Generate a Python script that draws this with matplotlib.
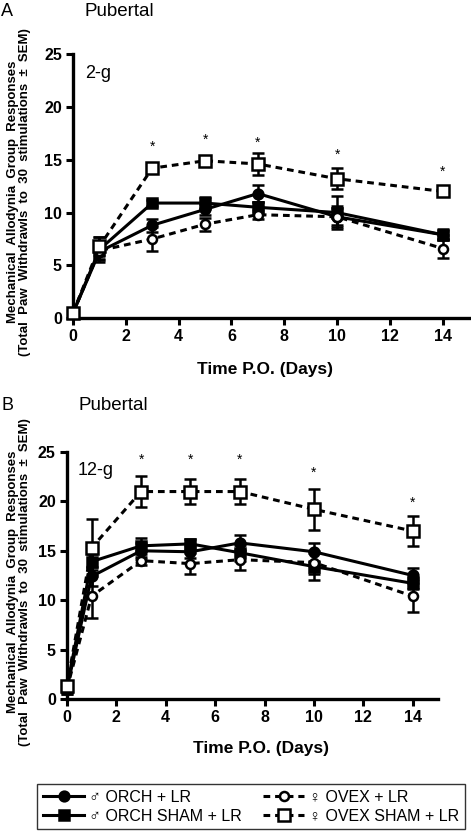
#!/usr/bin/env python3
"""Pubertal mechanical allodynia (2-g and 12-g), recreated with matplotlib."""

import matplotlib
matplotlib.use("Agg")
import matplotlib.pyplot as plt
from matplotlib.lines import Line2D

plt.rcParams["font.family"] = ["Liberation Sans", "Noto Sans CJK JP",
                               "DejaVu Sans"]

days = [0, 1, 3, 5, 7, 10, 14]
star_days = [3, 5, 7, 10, 14]

# Panel A: 2-g filament
orch_a = [0.5, 6.3, 8.8, 10.3, 11.8, 9.6, 7.9]
orch_a_sem = [0.3, 0.8, 0.6, 0.5, 0.8, 1.0, 0.4]
orch_sham_a = [0.5, 6.5, 10.9, 10.9, 10.5, 10.0, 7.9]
orch_sham_a_sem = [0.3, 1.2, 0.3, 0.6, 0.5, 1.6, 0.5]
ovex_a = [0.5, 6.4, 7.5, 8.9, 9.8, 9.6, 6.6]
ovex_a_sem = [0.3, 0.8, 1.1, 0.6, 0.4, 0.8, 0.9]
ovex_sham_a = [0.5, 6.8, 14.2, 14.9, 14.6, 13.2, 12.0]
ovex_sham_a_sem = [0.3, 0.9, 0.3, 0.4, 1.0, 1.0, 0.3]
stars_a = [16.2, 16.9, 16.6, 15.5, 13.9]

# Panel B: 12-g filament
orch_b = [1.0, 12.4, 15.0, 14.9, 15.8, 14.9, 12.5]
orch_b_sem = [0.5, 1.0, 0.8, 0.6, 0.8, 0.9, 0.8]
orch_sham_b = [1.2, 13.9, 15.5, 15.7, 14.8, 13.4, 11.7]
orch_sham_b_sem = [0.5, 0.8, 0.8, 0.5, 0.8, 1.4, 0.6]
ovex_b = [1.0, 10.4, 14.0, 13.7, 14.1, 13.8, 10.4]
ovex_b_sem = [0.5, 2.2, 0.4, 1.1, 1.0, 1.2, 1.6]
ovex_sham_b = [1.3, 15.3, 21.0, 21.0, 21.0, 19.2, 17.0]
ovex_sham_b_sem = [0.5, 2.9, 1.6, 1.3, 1.3, 2.1, 1.5]
stars_b = [24.2, 24.2, 24.2, 22.9, 19.9]

labels = ["\u2642 ORCH + LR", "\u2642 ORCH SHAM + LR",
          "\u2640 OVEX + LR", "\u2640 OVEX SHAM + LR"]

DASH = (0, (2.2, 1.6))
styles = [
    dict(ls="-", marker="o", mfc="black", ms=7),
    dict(ls="-", marker="s", mfc="black", ms=7),
    dict(ls=DASH, marker="o", mfc="white", ms=6.5),
    dict(ls=DASH, marker="s", mfc="white", ms=8),
]

YLABEL = ("Mechanical  Allodynia  Group  Responses\n"
          "(Total  Paw  Withdrawls  to  30  stimulations  \u00b1  SEM)")


def draw_panel(ax, series, sems, stars, tag):
    for vals, err, st in zip(series, sems, styles):
        ax.errorbar(days, vals, yerr=err, color="black", lw=2.2,
                    ls=st["ls"], marker=st["marker"], ms=st["ms"],
                    mfc=st["mfc"], mec="black", mew=1.8,
                    ecolor="black", elinewidth=1.8, capsize=4, capthick=1.8,
                    clip_on=False, zorder=3)
    for d, s in zip(star_days, stars):
        ax.text(d, s, "*", ha="center", va="center", fontsize=10)
    ax.text(0.03, 0.925, tag, transform=ax.transAxes, fontsize=13,
            ha="left", va="center")
    ax.set_xlim(0, 15)
    ax.set_ylim(0, 25)
    ax.set_xticks(range(0, 15, 2))
    ax.set_yticks(range(0, 26, 5))
    for side in ("top", "right"):
        ax.spines[side].set_visible(False)
    for side in ("left", "bottom"):
        ax.spines[side].set_linewidth(2.4)
    ax.tick_params(direction="out", length=5, width=2.2, labelsize=11.5,
                   pad=3)
    for lab in ax.get_xticklabels() + ax.get_yticklabels():
        lab.set_fontweight("bold")
    ax.set_xlabel("Time P.O. (Days)", fontsize=12.5, fontweight="bold")


fig = plt.figure(figsize=(4.71, 8.31), dpi=100)

ax_a = fig.add_axes([0.155, 0.617, 0.841, 0.318])
draw_panel(ax_a, [orch_a, orch_sham_a, ovex_a, ovex_sham_a],
           [orch_a_sem, orch_sham_a_sem, ovex_a_sem, ovex_sham_a_sem],
           stars_a, "2-g")
ax_a.xaxis.set_label_coords(0.485, -0.165)

ax_b = fig.add_axes([0.142, 0.159, 0.787, 0.297])
draw_panel(ax_b, [orch_b, orch_sham_b, ovex_b, ovex_sham_b],
           [orch_b_sem, orch_sham_b_sem, ovex_b_sem, ovex_sham_b_sem],
           stars_b, "12-g")
ax_b.xaxis.set_label_coords(0.524, -0.17)

# panel letters, titles, y labels
fig.text(0.003, 1 - 12 / 831, "A", fontsize=13, va="center", ha="left")
fig.text(84 / 471, 1 - 12 / 831, "Pubertal", fontsize=13.5, va="center",
         ha="left")
fig.text(0.003, 1 - 405 / 831, "B", fontsize=13, va="center", ha="left")
fig.text(78 / 471, 1 - 406 / 831, "Pubertal", fontsize=13.5, va="center",
         ha="left")
fig.text(19 / 471, 1 - 192 / 831, YLABEL, rotation=90, fontsize=9.5,
         fontweight="bold", ha="center", va="center", ma="center",
         linespacing=1.05)
fig.text(19 / 471, 1 - 582 / 831, YLABEL, rotation=90, fontsize=9.5,
         fontweight="bold", ha="center", va="center", ma="center",
         linespacing=1.05)

handles = [Line2D([], [], color="black", lw=2.2, ls=st["ls"],
                  marker=st["marker"], ms=st["ms"], mfc=st["mfc"],
                  mec="black", mew=1.8) for st in styles]
leg = fig.legend(handles, labels, loc="lower left", ncol=2, mode="expand",
                 bbox_to_anchor=(0.079, 0.002, 0.908, 0.074),
                 fontsize=11.5, frameon=True, fancybox=False,
                 handlelength=2.6, handletextpad=0.3, columnspacing=0.6,
                 borderaxespad=0.0, labelspacing=0.25, borderpad=0.35)
leg.get_frame().set_edgecolor("black")
leg.get_frame().set_linewidth(1.0)

fig.savefig("out.png", dpi=100)
